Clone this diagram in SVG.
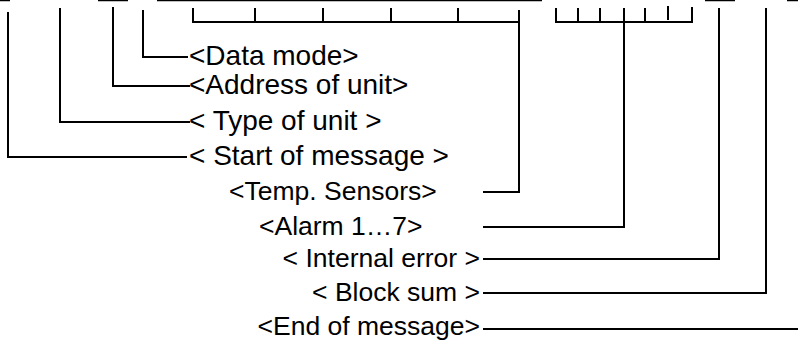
<svg xmlns="http://www.w3.org/2000/svg" width="798" height="341" viewBox="0 0 798 341">
<style>
.t{font-family:"Liberation Sans",Arial,sans-serif;font-size:26.5px;fill:#000}
.u{font-size:28px}
.c line{stroke:#000;stroke-width:2;stroke-linecap:butt}
.c polyline{fill:none;stroke:#000;stroke-width:2}
.c .top{stroke-width:1.5}
</style>
<rect width="798" height="341" fill="#fff"/>
<g class="c" id="connectors">
<line class="top" x1="0" y1="0.5" x2="10" y2="0.5"/>
<line class="top" x1="98" y1="0.5" x2="128" y2="0.5"/>
<line class="top" x1="157" y1="0.5" x2="542" y2="0.5"/>
<line class="top" x1="705" y1="0.5" x2="735" y2="0.5"/>
<line class="top" x1="787" y1="0.5" x2="798" y2="0.5"/>
<polyline points="8,12 8,157 187,157"/>
<polyline points="60,8 60,122 190,122"/>
<polyline points="113,7 113,86 190,86"/>
<polyline points="143,10 143,57 188,57"/>
<polyline points="193,8 193,22 519,22"/>
<line x1="255" y1="8" x2="255" y2="22"/>
<line x1="323" y1="8" x2="323" y2="22"/>
<line x1="391" y1="8" x2="391" y2="22"/>
<line x1="458" y1="8" x2="458" y2="22"/>
<polyline points="519,10 519,192 483,192"/>
<polyline points="556,8 556,22 692,22 692,7"/>
<line x1="578" y1="8" x2="578" y2="22"/>
<line x1="600" y1="8" x2="600" y2="22"/>
<line x1="645" y1="8" x2="645" y2="22"/>
<line x1="668" y1="6" x2="668" y2="20"/>
<polyline points="624,8 624,227 483,227"/>
<polyline points="719,8 719,259 483,259"/>
<polyline points="766,8 766,293 483,293"/>
<line x1="483" y1="329" x2="798" y2="329"/>
</g>
<g id="data-mode"><text class="t u" x="189" y="65">&lt;Data mode&gt;</text></g>
<g id="address"><text class="t u" x="189" y="94">&lt;Address of unit&gt;</text></g>
<g id="type"><text class="t u" x="189" y="130">&lt; Type of unit &gt;</text></g>
<g id="start"><text class="t u" x="189" y="165">&lt; Start of message &gt;</text></g>
<g id="temp"><text class="t" x="229" y="200">&lt;Temp. Sensors&gt;</text></g>
<g id="alarm"><text class="t" x="259" y="235">&lt;Alarm 1…7&gt;</text></g>
<g id="internal"><text class="t" x="480" y="267" text-anchor="end">&lt; Internal error &gt;</text></g>
<g id="blocksum"><text class="t" x="480" y="301" text-anchor="end">&lt; Block sum &gt;</text></g>
<g id="end"><text class="t" x="480" y="335" text-anchor="end">&lt;End of message&gt;</text></g>
</svg>
